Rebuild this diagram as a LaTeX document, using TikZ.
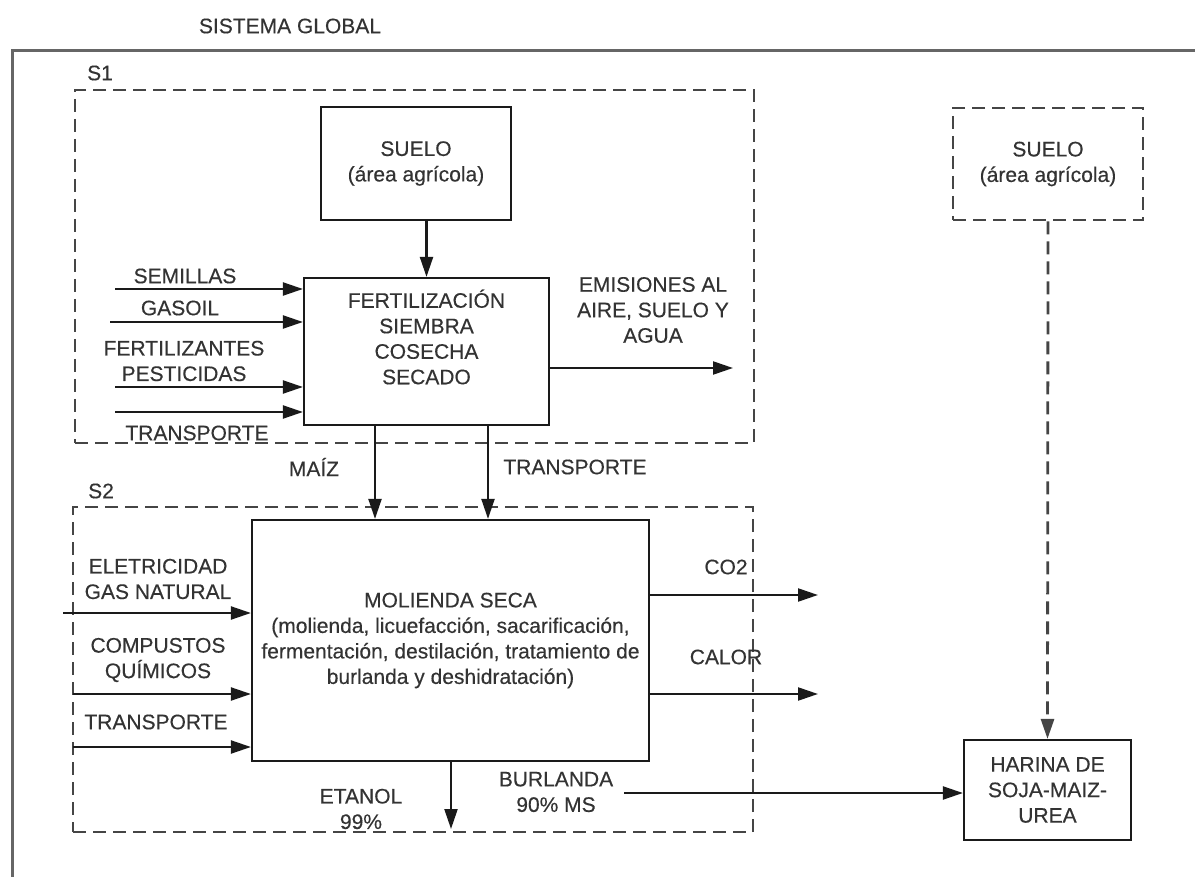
\documentclass[tikz,border=0pt]{standalone}
\usepackage{fontspec}
\setmainfont[FakeBold=0.35]{Liberation Sans}
\usetikzlibrary{arrows.meta}
\definecolor{txt}{HTML}{333333}
\definecolor{ln}{HTML}{1A1A1A}
\definecolor{dl}{HTML}{454545}
\definecolor{fr}{HTML}{666666}
\tikzset{
  lbl/.style={font=\fontsize{21}{25.5}\selectfont, text=txt, align=center, inner sep=0pt},
  solidbox/.style={draw=ln, line width=2.2pt, fill=white, inner sep=0pt, lbl},
  dashbox/.style={draw=dl, line width=2.8pt, dash pattern=on 13pt off 7pt, inner sep=0pt, lbl},
  arr/.style={draw=ln, line width=2.2pt, -{Triangle[length=20pt,width=13pt]}},
  darr/.style={draw=dl, line width=2.8pt, dash pattern=on 13pt off 7pt, -{Triangle[length=20pt,width=13pt]}},
  framel/.style={draw=fr, line width=3.5pt}
}
\begin{document}
\begin{tikzpicture}[x=1pt,y=-1pt]
\path[use as bounding box] (0,0) rectangle (1195,877);
% global system frame
\node[lbl] (title) at (290,26) {SISTEMA GLOBAL};
\coordinate (gtr) at (1195,50.5);
\coordinate (gtl) at (12.5,50.5);
\coordinate (gbl) at (12.5,877);
\draw[framel] (gtr) -- (gtl) -- (gbl);
% subsystem containers
\node[dashbox, minimum width=679pt, minimum height=353pt] (s1) at (414.5,266.5) {};
\node[lbl, anchor=west] (s1lbl) at (87,73) {S1};
\node[dashbox, minimum width=680pt, minimum height=325pt] (s2) at (413,669.5) {};
\node[lbl, anchor=west] (s2lbl) at (88,491) {S2};
% boxes
\node[solidbox, minimum width=190pt, minimum height=113pt] (suelo1) at (416,163.5) {SUELO\\(área agrícola)};
\node[solidbox, minimum width=245pt, minimum height=147pt] (fert) at (426.5,351.5) {};
\node[lbl] (ferttxt) at (426.5,337) {FERTILIZACIÓN\\SIEMBRA\\COSECHA\\SECADO};
\node[solidbox, minimum width=397pt, minimum height=241pt] (mol) at (450.5,640.5) {MOLIENDA SECA\\(molienda, licuefacción, sacarificación,\\fermentación, destilación, tratamiento de\\burlanda y deshidratación)};
\node[dashbox, fill=white, minimum width=190pt, minimum height=112pt] (suelo2) at (1048,164) {SUELO\\(área agrícola)};
\node[solidbox, minimum width=167pt, minimum height=100pt] (har) at (1047.5,790) {HARINA DE\\SOJA-MAIZ-\\UREA};
% S1 inputs
\coordinate (i1) at (115,289);
\coordinate (i2) at (110,322);
\coordinate (i3) at (115,387);
\coordinate (i4) at (115,412);
\draw[arr] (i1) -- (i1 -| fert.west);
\draw[arr] (i2) -- (i2 -| fert.west);
\draw[arr] (i3) -- (i3 -| fert.west);
\draw[arr] (i4) -- (i4 -| fert.west);
\node[lbl] (lsem) at (185,276) {SEMILLAS};
\node[lbl] (lgas) at (180,308) {GASOIL};
\node[lbl] (lfer) at (184,361) {FERTILIZANTES\\PESTICIDAS};
\node[lbl] (ltr1) at (197,433) {TRANSPORTE};
% suelo -> fert
\draw[arr] (fert.north |- suelo1.south) -- (fert.north);
% emissions
\coordinate (emi) at (733,368);
\draw[arr] (fert.east |- emi) -- (emi);
\node[lbl] (lemi) at (653,310) {EMISIONES AL\\AIRE, SUELO Y\\AGUA};
% fert -> molienda
\coordinate (xm) at (375,0);
\coordinate (xt) at (488,0);
\draw[arr] (fert.south -| xm) -- (mol.north -| xm);
\draw[arr] (fert.south -| xt) -- (mol.north -| xt);
\node[lbl] (lmaiz) at (314,467) {MAÍZ};
\node[lbl] (ltr2) at (575,467) {TRANSPORTE};
% S2 inputs
\coordinate (j1) at (63,613);
\coordinate (j2) at (73,694);
\coordinate (j3) at (73,747);
\draw[arr] (j1) -- (j1 -| mol.west);
\draw[arr] (j2) -- (j2 -| mol.west);
\draw[arr] (j3) -- (j3 -| mol.west);
\node[lbl] (lele) at (158,579) {ELETRICIDAD\\GAS NATURAL};
\node[lbl] (lcom) at (158,660) {COMPUSTOS\\QUÍMICOS};
\node[lbl] (ltr3) at (156,722) {TRANSPORTE};
% outputs
\coordinate (co2) at (818,595);
\coordinate (cal) at (818,694);
\draw[arr] (mol.east |- co2) -- (co2);
\draw[arr] (mol.east |- cal) -- (cal);
\node[lbl] (lco2) at (726,567) {CO2};
\node[lbl] (lcal) at (726,657) {CALOR};
\coordinate (et) at (451,829);
\draw[arr] (mol.south -| et) -- (et);
\node[lbl] (let) at (361,809) {ETANOL\\99\%};
\coordinate (bu) at (624,793);
\draw[arr] (bu) -- (bu -| har.west);
\node[lbl] (lbu) at (556,792) {BURLANDA\\90\% MS};
% suelo2 -> harina
\draw[darr] (suelo2.south) -- (har.north);
\end{tikzpicture}
\end{document}
